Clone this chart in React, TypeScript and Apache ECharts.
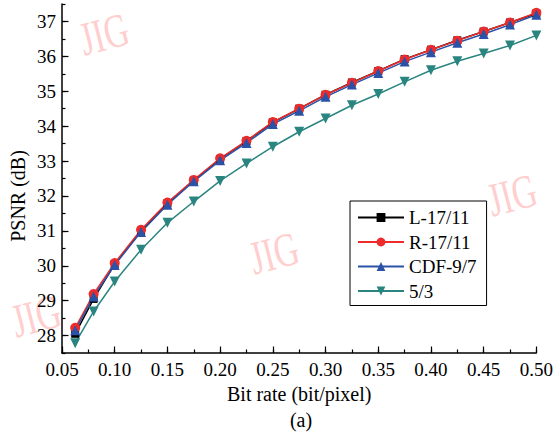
import React, { useEffect, useRef } from "react";
import * as echarts from "echarts";

const bitRates = [0.0625, 0.08, 0.1, 0.125, 0.15, 0.175, 0.2, 0.225, 0.25, 0.275, 0.3, 0.325, 0.35, 0.375, 0.4, 0.425, 0.45, 0.475, 0.5];
const l1711 = [28.05, 29.05, 30.05, 31.0, 31.79, 32.44, 33.06, 33.57, 34.11, 34.5, 34.9, 35.25, 35.58, 35.92, 36.19, 36.46, 36.71, 36.97, 37.23];
const r1711 = [28.22, 29.19, 30.08, 31.03, 31.81, 32.46, 33.08, 33.58, 34.12, 34.5, 34.9, 35.24, 35.58, 35.91, 36.19, 36.45, 36.71, 36.97, 37.25];
const cdf97 = [28.15, 29.12, 30.02, 30.97, 31.75, 32.42, 33.02, 33.52, 34.06, 34.44, 34.84, 35.19, 35.52, 35.85, 36.12, 36.39, 36.64, 36.91, 37.19];
const le53 = [27.78, 28.69, 29.55, 30.46, 31.23, 31.84, 32.43, 32.93, 33.41, 33.84, 34.22, 34.6, 34.92, 35.27, 35.6, 35.86, 36.08, 36.31, 36.6];
const yTickValues = [28, 29, 30, 31, 32, 33, 34, 35, 36, 37];

const FONT = "'Liberation Serif', 'Times New Roman', serif";

function pairs(ys: number[]) {
  return bitRates.map((x, i) => [x, ys[i]]);
}

export default function App() {
  const ref = useRef<HTMLDivElement>(null);
  useEffect(() => {
    if (!ref.current) return;
    const chart = echarts.init(ref.current, null, { renderer: "svg" });
    const wm = (x: number, y: number) => ({
      type: "text",
      x,
      y,
      rotation: 0.25,
      scaleX: 1,
      scaleY: 1.4,
      z: -10,
      zlevel: 0,
      style: {
        text: "JIG",
        fontSize: 34,
        fontFamily: FONT,
        fill: "rgba(255,190,190,0.75)",
        align: "center",
        verticalAlign: "middle",
      },
    });
    const series = [
      { name: "L-17/11", data: pairs(l1711), color: "#000000", symbol: "rect", size: 8, rot: 0 },
      { name: "R-17/11", data: pairs(r1711), color: "#ee2b2b", symbol: "circle", size: 10, rot: 0 },
      { name: "CDF-9/7", data: pairs(cdf97), color: "#2a52a6", symbol: "triangle", size: 10, rot: 0 },
      { name: "5/3", data: pairs(le53), color: "#2a8580", symbol: "triangle", size: 10, rot: 180 },
    ].map((s) => ({
      type: "line",
      name: s.name,
      data: s.data,
      xAxisIndex: 0,
      yAxisIndex: 0,
      symbol: s.symbol,
      symbolSize: s.size,
      symbolRotate: s.rot,
      itemStyle: { color: s.color },
      lineStyle: { color: s.color, width: 1.5 },
      z: 3,
    }));
    chart.setOption({
      animation: false,
      backgroundColor: "#ffffff",
      textStyle: { fontFamily: FONT },
      grid: { left: 62, right: 19, top: 4, bottom: 82, containLabel: false },
      xAxis: [
        {
          type: "value",
          min: 0.05,
          max: 0.5,
          interval: 0.025,
          position: "bottom",
          axisLine: { show: true, onZero: false, lineStyle: { color: "#000", width: 1.5 } },
          axisTick: { show: true, inside: true, length: 3.5, lineStyle: { color: "#000", width: 1.2 } },
          axisLabel: { show: false },
          splitLine: { show: false },
        },
        {
          type: "value",
          min: 0.05,
          max: 0.5,
          interval: 0.05,
          position: "bottom",
          axisLine: { show: false, onZero: false },
          axisTick: { show: true, inside: true, length: 6.5, lineStyle: { color: "#000", width: 1.2 } },
          axisLabel: {
            show: true,
            margin: 7,
            fontSize: 19,
            fontFamily: FONT,
            color: "#000",
            formatter: (v: number) => v.toFixed(2),
          },
          splitLine: { show: false },
          name: "Bit rate (bit/pixel)",
          nameLocation: "middle",
          nameGap: 28,
          nameTextStyle: { fontSize: 20, fontFamily: FONT, color: "#000" },
        },
      ],
      yAxis: [
        {
          type: "value",
          min: 27.5,
          max: 37.5,
          interval: 0.5,
          position: "left",
          axisLine: { show: true, onZero: false, lineStyle: { color: "#000", width: 1.5 } },
          axisTick: { show: true, inside: true, length: 3.5, lineStyle: { color: "#000", width: 1.2 } },
          axisLabel: { show: false },
          splitLine: { show: false },
        },
        {
          type: "value",
          min: 27.5,
          max: 37.5,
          position: "left",
          axisLine: { show: false, onZero: false },
          axisTick: {
            show: true,
            inside: true,
            length: 6.5,
            customValues: yTickValues,
            lineStyle: { color: "#000", width: 1.2 },
          },
          axisLabel: {
            show: true,
            margin: 6,
            fontSize: 19,
            fontFamily: FONT,
            color: "#000",
            customValues: yTickValues,
          },
          splitLine: { show: false },
        },
      ],
      legend: {
        show: true,
        orient: "vertical",
        left: 350,
        top: 201,
        padding: [7, 10, 5, 7],
        borderColor: "#000",
        borderWidth: 1,
        borderRadius: 0,
        backgroundColor: "#fff",
        itemWidth: 46,
        itemHeight: 11,
        itemGap: 5.5,
        textStyle: { fontSize: 19, lineHeight: 19, fontFamily: FONT, color: "#000" },
        data: ["L-17/11", "R-17/11", "CDF-9/7", "5/3"],
      },
      graphic: [
        wm(104, 34),
        wm(274, 253),
        wm(512, 195),
        wm(36, 316),
        {
          type: "text",
          x: 17.5,
          y: 196,
          rotation: Math.PI / 2,
          style: {
            text: "PSNR (dB)",
            fontSize: 20,
            fontFamily: FONT,
            fill: "#000",
            align: "center",
            verticalAlign: "middle",
          },
        },
        {
          type: "text",
          x: 301,
          y: 420,
          style: {
            text: "(a)",
            fontSize: 20,
            fontFamily: FONT,
            fill: "#000",
            align: "center",
            verticalAlign: "middle",
          },
        },
      ],
      series,
    });
    return () => chart.dispose();
  }, []);
  return (
    <div
      ref={ref}
      style={{ position: "absolute", left: 0, top: 0, width: 556, height: 435 }}
    />
  );
}
